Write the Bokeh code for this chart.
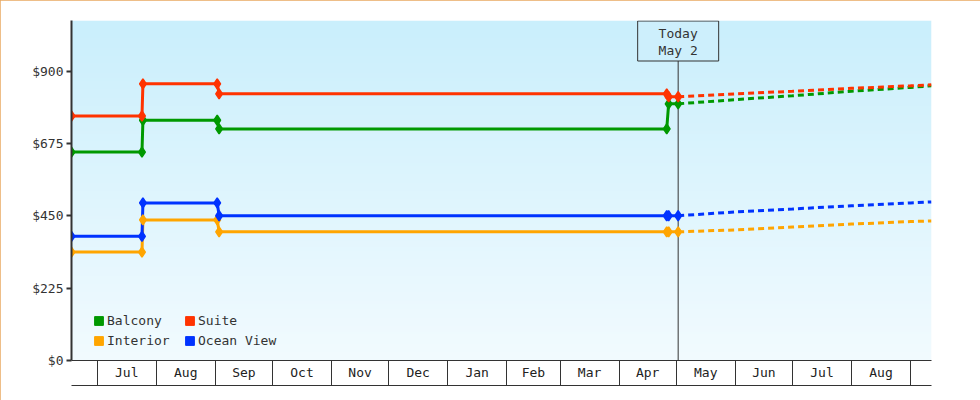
import numpy as np
import pandas as pd
from bokeh.plotting import figure
from bokeh.models import (Range1d, FixedTicker, DatetimeTickFormatter, PrintfTickFormatter,
                          LinearAxis, Legend, LegendItem)
from bokeh.core.properties import value
from bokeh.embed import file_html
from bokeh.resources import INLINE

# ---------------- data ----------------
month_starts = ["2024-07-01", "2024-08-01", "2024-09-01", "2024-10-01", "2024-11-01",
                "2024-12-01", "2025-01-01", "2025-02-01", "2025-03-01", "2025-04-01",
                "2025-05-01", "2025-06-01", "2025-07-01", "2025-08-01", "2025-09-01"]
month_labels = ["Jul", "Aug", "Sep", "Oct", "Nov", "Dec", "Jan", "Feb", "Mar", "Apr",
                "May", "Jun", "Jul", "Aug"]
y_ticks = [0, 225, 450, 675, 900]
x_start = "2024-06-17 12:00"
x_end = "2025-09-12 00:00"
y_top = 1057
today = "2025-05-02 00:00"
today_label = ["Today", "May 2"]

series_names = ["Balcony", "Suite", "Interior", "Ocean View"]
series_colors = ["#009900", "#ff3300", "#ffa500", "#0033ff"]

change_dates = ["2024-06-17 12:00", "2024-07-24 12:00", "2024-07-25 00:00",
                "2024-09-02 00:00", "2024-09-03 00:00", "2025-04-26 00:00",
                "2025-04-27 00:00", "2025-05-02 00:00"]
balcony_price = [648, 648, 747, 747, 720, 720, 798, 798]
suite_price = [760, 760, 860, 860, 829, 829, 820, 820]
interior_price = [337, 337, 437, 437, 400, 400, 400, 400]
ocean_price = [386, 386, 490, 490, 450, 450, 450, 450]

forecast_dates = ["2025-05-02 00:00", "2025-06-01 00:00", "2025-07-01 00:00",
                  "2025-08-01 00:00", "2025-09-01 00:00", "2025-09-12 00:00"]
balcony_forecast = [798, 811, 823, 837, 849, 854]
suite_forecast = [820, 829, 837, 846, 854, 857]
interior_forecast = [400, 406, 415, 424, 432, 434]
ocean_forecast = [450, 462, 471, 481, 490, 493]

# ---------------- helpers ----------------
def ts(s):
    return pd.Timestamp(s)

def ms(s):
    return int(pd.Timestamp(s).value // 10**6)

start_ms = [ms(s) for s in month_starts]
mid_ms = [(a + b) // 2 for a, b in zip(start_ms[:-1], start_ms[1:])]

FONT = "DejaVu Sans Mono"
DARK = "#333333"

p = figure(width=980, height=400, output_backend="svg", toolbar_location=None,
           x_axis_type="datetime",
           x_range=Range1d(ts(x_start), ts(x_end)),
           y_range=Range1d(0, y_top),
           min_border_left=71, min_border_right=49, min_border_top=20, min_border_bottom=40)
p.outline_line_color = None
p.xgrid.visible = False
p.ygrid.visible = False
p.border_fill_color = "white"
p.background_fill_color = "white"
p.styles = {"outline": "1px solid #e8a860", "outline-offset": "-1px"}

# background gradient (style only)
n = 256
frac = np.linspace(0.0, 1.0, n)[:, None]
bottom_rgb = np.array([242, 251, 255])
top_rgb = np.array([202, 239, 252])
rgb = bottom_rgb + (top_rgb - bottom_rgb) * frac
img = np.empty((n, 1), dtype=np.uint32)
view = img.view(dtype=np.uint8).reshape((n, 1, 4))
view[:, :, 0] = rgb[:, 0:1]
view[:, :, 1] = rgb[:, 1:2]
view[:, :, 2] = rgb[:, 2:3]
view[:, :, 3] = 255
p.image_rgba(image=[img], x=ts(x_start), y=0, dw=ms(x_end) - ms(x_start), dh=y_top)

# today line
box_y = y_top * (1 - 20.5 / 340)
p.segment(x0=[ts(today)], y0=[0], x1=[ts(today)], y1=[box_y],
          line_color=DARK, line_width=1)

dates = [ts(d) for d in change_dates]
fdates = [ts(d) for d in forecast_dates]
actuals = [balcony_price, suite_price, interior_price, ocean_price]
forecasts = [balcony_forecast, suite_forecast, interior_forecast, ocean_forecast]

for vals, fvals, c in zip(actuals, forecasts, series_colors):
    p.line(fdates, fvals, line_color=c, line_width=3, line_dash="6 4")
    p.line(dates, vals, line_color=c, line_width=3)
for vals, c in zip(actuals, series_colors):
    p.scatter(dates, vals, marker="diamond", size=10, fill_color=c, line_color=c,
              line_width=1.5)

# today box
p.rect(x=[ts(today)], y=[box_y], width=81, height=40,
       width_units="screen", height_units="screen",
       fill_color="#cdeffc", line_color=DARK, line_width=1)
p.text(x=[ts(today)] * 2,
       y=[y_top * (1 - 12.5 / 340), y_top * (1 - 30 / 340)],
       text=today_label, text_align="center", text_baseline="middle",
       text_font=value(FONT), text_font_size=value("13px"), text_color=DARK)

# y axis
ya = p.yaxis[0]
ya.ticker = FixedTicker(ticks=y_ticks)
ya.formatter = PrintfTickFormatter(format="$%d")
ya.axis_line_color = DARK
ya.axis_line_width = 2
ya.major_tick_line_color = DARK
ya.major_tick_line_width = 2
ya.major_tick_in = 0
ya.major_tick_out = 5
ya.minor_tick_line_color = None
ya.major_label_text_font = FONT
ya.major_label_text_font_size = "13px"
ya.major_label_text_color = DARK
ya.major_label_standoff = 3

# x axis 1: month separators only
xa = p.xaxis[0]
xa.ticker = FixedTicker(ticks=[], minor_ticks=start_ms)
xa.axis_line_color = DARK
xa.axis_line_width = 1
xa.major_tick_line_color = None
xa.major_tick_in = 0
xa.major_tick_out = 0
xa.minor_tick_line_color = DARK
xa.minor_tick_line_width = 1
xa.minor_tick_in = 0
xa.minor_tick_out = 25
xa.major_label_standoff = 0

# x axis 2: bottom closing line + month labels drawn up into the band
fmt = "%b"
xb = LinearAxis(ticker=FixedTicker(ticks=mid_ms),
                formatter=DatetimeTickFormatter(microseconds=fmt, milliseconds=fmt,
                                                seconds=fmt, minsec=fmt, minutes=fmt,
                                                hourmin=fmt, hours=fmt, days=fmt,
                                                months=fmt, years=fmt),
                axis_line_color=DARK, axis_line_width=1,
                major_tick_line_color=None, major_tick_in=0, major_tick_out=0,
                minor_tick_line_color=None,
                major_label_text_font=FONT, major_label_text_font_size="13px",
                major_label_text_color="#222222", major_label_standoff=-21)
xb.major_label_overrides = {m: lab for m, lab in zip(mid_ms, month_labels)}
p.add_layout(xb, "below")

# legend (proxy squares kept outside the visible range)
dummies = [p.rect(x=[ts(x_start)], y=[-1000], width=1, height=1, fill_color=c,
                  line_color=c) for c in series_colors]
items = [LegendItem(label=nm, renderers=[r]) for nm, r in zip(series_names, dummies)]
legend = Legend(items=items, location=(22, 10), orientation="horizontal", ncols=2,
                glyph_width=11, glyph_height=11, label_standoff=3, label_width=77,
                label_height=20, spacing=0, padding=0, margin=0,
                border_line_color=None, background_fill_alpha=0,
                label_text_font=FONT, label_text_font_size="13px",
                label_text_color=DARK)
p.add_layout(legend)

open("out.html", "w").write(file_html(p, INLINE))
